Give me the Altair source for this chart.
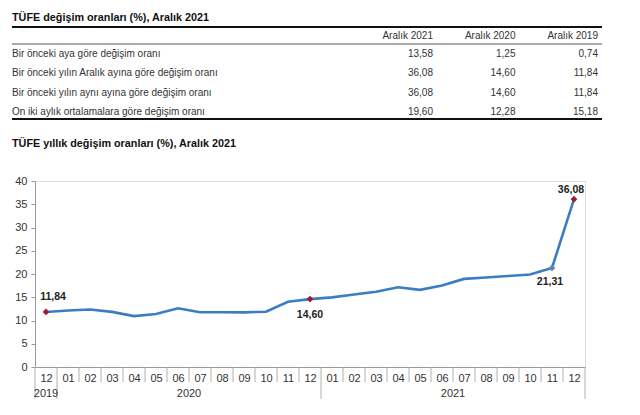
import altair as alt
import pandas as pd

# ---------------- data ----------------
months = ["12", "01", "02", "03", "04", "05", "06", "07", "08", "09", "10", "11", "12",
          "01", "02", "03", "04", "05", "06", "07", "08", "09", "10", "11", "12"]
years = ["2019"] + ["2020"] * 12 + ["2021"] * 12
values = [11.84, 12.15, 12.37, 11.86, 10.94, 11.39, 12.62, 11.76, 11.77, 11.75, 11.89, 14.03,
          14.60, 14.97, 15.61, 16.19, 17.14, 16.59, 17.53, 18.95, 19.25, 19.58, 19.89, 21.31, 36.08]

table_title = "TÜFE değişim oranları (%), Aralık 2021"
chart_title = "TÜFE yıllık değişim oranları (%), Aralık 2021"
table_rows = ["Bir önceki aya göre değişim oranı",
              "Bir önceki yılın Aralık ayına göre değişim oranı",
              "Bir önceki yılın aynı ayına göre değişim oranı",
              "On iki aylık ortalamalara göre değişim oranı"]
table_cols = ["Aralık 2021", "Aralık 2020", "Aralık 2019"]
col_2021 = [13.58, 36.08, 36.08, 19.60]
col_2020 = [1.25, 14.60, 14.60, 12.28]
col_2019 = [0.74, 11.84, 11.84, 15.18]

red_points = [0, 12, 24]
blue_points = [23]

FONT = "Liberation Sans"
TXT = "#333333"
W, H = 550, 186

# ---------------- frames ----------------
df = pd.DataFrame({"i": range(len(values)), "m": months, "yr": years, "v": values})
df["lbl"] = [f"{v:.2f}".replace(".", ",") for v in values]

xs = alt.Scale(domain=[-0.5, len(values) - 0.5], nice=False, zero=False)
ys = alt.Scale(domain=[0, 40], nice=False)

line = alt.Chart(df).mark_line(color="#3a7dc2", strokeWidth=2.6).encode(
    x=alt.X("i:Q", scale=xs, axis=alt.Axis(
        values=list(range(len(values))),
        labelExpr=f"{months}[datum.value]",
        tickSize=0, labelPadding=5, grid=False, title=None,
        domainColor="#999999", labelColor=TXT, labelFontSize=11, labelFont=FONT,
        labelFlush=False, labelOverlap=False)),
    y=alt.Y("v:Q", scale=ys, axis=alt.Axis(
        values=list(range(0, 41, 5)), tickSize=4, tickColor="#999999",
        domainColor="#999999", grid=False, title=None, labelPadding=4,
        labelColor=TXT, labelFontSize=11, labelFont=FONT)),
)

red = alt.Chart(df[df.i.isin(red_points)]).mark_point(
    shape="diamond", filled=True, size=45, color="#9b1c35", opacity=1).encode(
    x=alt.X("i:Q", scale=xs, axis=None), y=alt.Y("v:Q", scale=ys, axis=None))
blue = alt.Chart(df[df.i.isin(blue_points)]).mark_point(
    shape="diamond", filled=True, size=45, color="#5b86bd", opacity=1).encode(
    x=alt.X("i:Q", scale=xs, axis=None), y=alt.Y("v:Q", scale=ys, axis=None))

label_offsets = {0: (7, -15), 12: (0, 16), 23: (-2, 14), 24: (-3, -9)}
label_layers = []
for idx, (dx, dy) in label_offsets.items():
    label_layers.append(
        alt.Chart(df[df.i == idx]).mark_text(
            dx=dx, dy=dy, fontWeight="bold", fontSize=10.5, font=FONT, color="#222222").encode(
            x=alt.X("i:Q", scale=xs, axis=None), y=alt.Y("v:Q", scale=ys, axis=None),
            text="lbl:N"))

# separators below the x axis
bounds = []
for k in range(len(values) + 1):
    b = k - 0.5
    if k == 0 or k == len(values) or years[k] != years[k - 1]:
        bounds.append({"b": b, "kind": "year"})
    else:
        bounds.append({"b": b, "kind": "month"})
bdf = pd.DataFrame(bounds)
msep = alt.Chart(bdf[bdf.kind == "month"]).mark_rule(color="#b0b0b0", strokeWidth=1).encode(
    x=alt.X("b:Q", scale=xs, axis=None), y=alt.value(H), y2=alt.value(H + 15))
ysep = alt.Chart(bdf[bdf.kind == "year"]).mark_rule(color="#b0b0b0", strokeWidth=1).encode(
    x=alt.X("b:Q", scale=xs, axis=None), y=alt.value(H), y2=alt.value(H + 32))

ydf = df.groupby("yr", as_index=False)["i"].mean()
ytext = alt.Chart(ydf).mark_text(fontSize=11, font=FONT, color=TXT, baseline="middle").encode(
    x=alt.X("i:Q", scale=xs, axis=None), y=alt.value(H + 27), text="yr:N")

# ---------------- table ----------------
tdf = pd.DataFrame({"row": table_rows, "Aralık 2021": col_2021,
                    "Aralık 2020": col_2020, "Aralık 2019": col_2019})
tlong = tdf.melt(id_vars="row", var_name="col", value_name="val")
tlong["txt"] = [f"{v:.2f}".replace(".", ",") for v in tlong.val]

row_scale = alt.Scale(type="point", domain=table_rows, range=[-127, -69], padding=0)
col_scale = alt.Scale(type="point", domain=table_cols, range=[398, 563], padding=0)

TFS = 10
cells = alt.Chart(tlong).mark_text(align="right", baseline="middle", fontSize=TFS,
                                   font=FONT, color=TXT).encode(
    x=alt.X("col:N", scale=col_scale, axis=None),
    y=alt.Y("row:N", scale=row_scale, axis=None), text="txt:N")
rowlab = alt.Chart(pd.DataFrame({"row": table_rows})).mark_text(
    align="left", baseline="middle", fontSize=TFS, font=FONT, color=TXT).encode(
    x=alt.value(-23), y=alt.Y("row:N", scale=row_scale, axis=None), text="row:N")
header = alt.Chart(pd.DataFrame({"col": table_cols})).mark_text(
    align="right", baseline="middle", fontSize=TFS, font=FONT, color=TXT).encode(
    x=alt.X("col:N", scale=col_scale, axis=None), y=alt.value(-145), text="col:N")

titles = alt.Chart(pd.DataFrame({"t": [table_title, chart_title], "k": ["a", "b"]})).mark_text(
    align="left", baseline="middle", fontSize=10.8, fontWeight="bold", font=FONT,
    color="#111111").encode(
    x=alt.value(-23),
    y=alt.Y("k:N", scale=alt.Scale(type="point", domain=["a", "b"], range=[-163, -37], padding=0),
            axis=None),
    text="t:N")

hl = pd.DataFrame({"k": ["top", "bot"], "w": [2, 2]})
hrules_top = alt.Chart(hl).mark_rule(color="#111111").encode(
    x=alt.value(-23), x2=alt.value(567),
    y=alt.Y("k:N", scale=alt.Scale(type="point", domain=["top", "bot"],
                                   range=[-154, -62], padding=0), axis=None),
    strokeWidth=alt.StrokeWidth("w:Q", scale=None, legend=None),
)
hrule_mid = alt.Chart(pd.DataFrame({"k": ["mid"]})).mark_rule(
    color="#555555", strokeWidth=1).encode(
    x=alt.value(-23), x2=alt.value(567), y=alt.value(-137))

chart = alt.layer(
    hrules_top, hrule_mid, titles, header, rowlab, cells,
    msep, ysep, ytext, line, red, blue, *label_layers
).resolve_scale(x="independent", y="independent").properties(
    width=W, height=H,
    autosize=alt.AutoSizeParams(type="none"),
    padding={"left": 35, "top": 181, "right": 55, "bottom": 48},
).configure_view(stroke=None).configure(background="white")

chart.save("out.html", embed_options={"renderer": "svg", "actions": False})
